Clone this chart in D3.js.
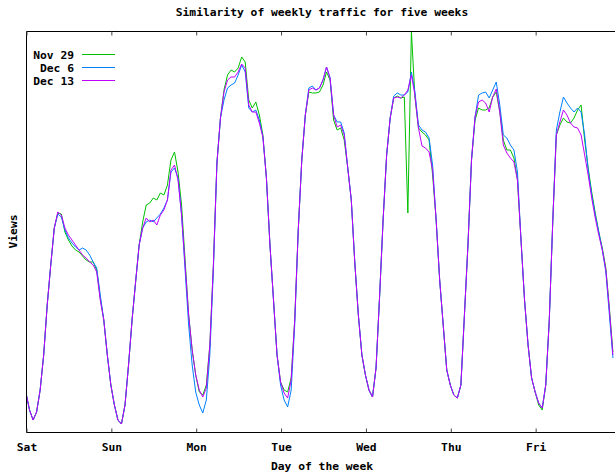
<!DOCTYPE html>
<html>
<head>
<meta charset="utf-8">
<script src="https://cdn.jsdelivr.net/npm/d3@7"></script>
<style>
  body { margin: 0; background: #fff; }
  svg { display: block; font-family: "DejaVu Sans Mono", monospace; font-weight: bold; }
</style>
</head>
<body>
<div id="chart"></div>
<script>
// hourly samples, hour 0 = Saturday 00:00
const hours = d3.range(0, 167);
const dayLabels = ["Sat", "Sun", "Mon", "Tue", "Wed", "Thu", "Fri"];
const seriesNames = ["Nov 29", "Dec 6", "Dec 13"];
const seriesColors = ["#00c000", "#0080ff", "#c000ff"];

// views (relative units)
const nov29 = [39,22,12,20,42,77,127,167,204,219,218,200,192,186,182,180,176,172,170,170,162,134,112,77,
  47,27,12,8,27,67,112,150,187,210,227,229,234,232,239,237,247,272,280,260,227,172,117,82,
  57,40,37,47,87,167,269,314,342,357,362,360,364,375,370,332,324,330,317,297,254,187,132,77,
  50,42,40,54,112,202,272,317,340,339,339,340,347,360,352,312,302,304,292,264,232,169,117,77,
  57,42,35,64,135,212,277,314,334,336,334,335,219,401,335,304,300,297,292,257,212,152,107,62,
  47,37,34,47,117,187,272,312,324,322,322,324,335,340,320,292,282,282,274,252,192,132,87,54,
  40,27,22,47,112,212,297,307,314,310,309,314,322,327,292,264,240,219,200,184,164,124,80];

const dec6 = [39,22,12,20,42,77,127,167,204,218,215,202,194,189,185,182,184,182,177,170,164,137,112,77,
  47,27,12,8,27,67,112,150,187,204,210,212,210,214,218,224,232,260,264,254,217,162,107,67,
  40,27,19,32,77,162,269,314,332,344,347,349,357,367,360,324,320,322,312,295,254,187,132,77,
  47,32,25,42,107,202,272,317,344,346,342,344,352,365,354,317,310,310,299,264,232,169,117,77,
  57,42,35,64,135,212,277,314,336,339,337,337,340,360,340,307,302,300,294,267,212,152,107,62,
  47,37,34,47,117,187,272,315,337,339,340,334,342,350,327,297,294,287,282,260,192,132,87,54,
  40,29,24,47,112,212,302,320,335,329,324,320,324,320,297,262,237,217,200,182,160,117,74];

const dec13 = [39,22,12,20,42,77,127,167,204,220,217,204,197,192,187,182,177,174,170,167,160,132,112,77,
  47,27,12,8,27,67,112,150,187,204,214,210,212,207,217,222,232,262,267,252,217,167,117,82,
  57,42,35,44,87,167,269,314,340,352,355,355,360,368,364,327,320,320,309,295,254,187,132,77,
  50,39,34,52,112,202,272,317,342,344,342,344,352,365,354,317,305,307,297,264,232,169,117,77,
  57,42,35,64,135,212,277,314,334,335,334,337,342,357,337,304,286,284,280,262,212,152,107,62,
  47,37,34,47,117,187,272,315,330,332,329,320,335,343,320,287,279,274,270,252,192,132,87,54,
  40,29,24,47,112,212,297,310,322,317,309,305,304,297,277,257,234,214,197,182,162,122,77];

const seriesValues = [nov29, dec6, dec13];

const width = 615, height = 473;
const plotLeft = 26, plotTop = 31, plotBottom = 432, plotRight = 620;

const svg = d3.select("#chart").append("svg")
  .attr("width", width)
  .attr("height", height);

const x = d3.scaleLinear().domain([0, 168]).range([plotLeft, plotRight]);
const y = d3.scaleLinear().domain([0, 401]).range([plotBottom, plotTop]);

svg.append("clipPath").attr("id", "plot-clip")
  .append("rect")
  .attr("x", plotLeft).attr("y", plotTop)
  .attr("width", plotRight - plotLeft).attr("height", plotBottom - plotTop);

// lines, first series underneath
const line = d3.line()
  .x((d, i) => x(hours[i]))
  .y(d => y(d));

svg.append("g")
  .attr("clip-path", "url(#plot-clip)")
  .selectAll("path")
  .data(seriesValues)
  .join("path")
  .attr("fill", "none")
  .attr("stroke", (d, i) => seriesColors[i])
  .attr("stroke-width", 1)
  .attr("d", line);

// frame
svg.append("path")
  .attr("fill", "none")
  .attr("stroke", "#000")
  .attr("stroke-width", 1)
  .attr("d", `M${plotRight + 5},${plotTop + 0.5}H${plotLeft + 0.5}V${plotBottom + 0.5}H${plotRight + 5}`);

const tickHours = d3.range(0, 168, 24);

const xAxis = svg.append("g")
  .attr("transform", `translate(0.5,${plotBottom + 0.5})`)
  .call(d3.axisBottom(x)
    .tickValues(tickHours)
    .tickSize(-4)
    .tickPadding(10)
    .tickFormat((d, i) => dayLabels[i]));
xAxis.select(".domain").remove();
xAxis.selectAll("line").attr("stroke", "#444");
xAxis.selectAll("text")
  .attr("fill", "#000")
  .style("font-family", "DejaVu Sans Mono, monospace")
  .style("font-size", "11.3px")
  .style("font-weight", "bold");

const xAxisTop = svg.append("g")
  .attr("transform", `translate(0.5,${plotTop + 0.5})`)
  .call(d3.axisTop(x).tickValues(tickHours).tickSize(-4).tickFormat(""));
xAxisTop.select(".domain").remove();
xAxisTop.selectAll("line").attr("stroke", "#444");

// titles
svg.append("text")
  .attr("x", 322).attr("y", 16)
  .attr("text-anchor", "middle")
  .style("font-size", "11.3px")
  .text("Similarity of weekly traffic for five weeks");

svg.append("text")
  .attr("x", 322).attr("y", 470)
  .attr("text-anchor", "middle")
  .style("font-size", "11.3px")
  .text("Day of the week");

svg.append("text")
  .attr("transform", `translate(17,${(plotTop + plotBottom) / 2}) rotate(-90)`)
  .attr("text-anchor", "middle")
  .style("font-size", "11.3px")
  .text("Views");

// legend
const legend = svg.append("g")
  .selectAll("g")
  .data(seriesNames)
  .join("g")
  .attr("transform", (d, i) => `translate(0,${54.5 + i * 13})`);

legend.append("text")
  .attr("x", 74).attr("y", 4)
  .attr("text-anchor", "end")
  .style("font-size", "11.3px")
  .text(d => d);

legend.append("line")
  .attr("x1", 82).attr("x2", 115)
  .attr("stroke", (d, i) => seriesColors[i])
  .attr("stroke-width", 1);
</script>
</body>
</html>
